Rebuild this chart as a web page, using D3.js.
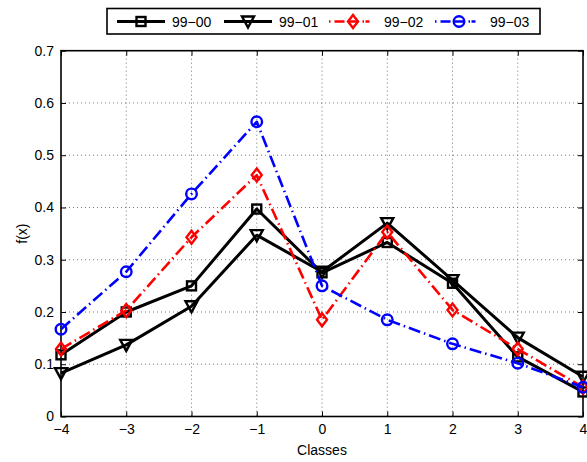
<!DOCTYPE html>
<html><head><meta charset="utf-8">
<script src="https://cdn.jsdelivr.net/npm/d3@7"></script>
<style>body{margin:0;background:#fff}svg{display:block}text{font-family:"Liberation Sans",Arial,sans-serif}</style>
</head><body>
<svg id="c" width="587" height="462"></svg>
<script>
const classes = [-4,-3,-2,-1,0,1,2,3,4];
const s9900 = [0.118,0.200,0.250,0.397,0.275,0.333,0.255,0.114,0.047];
const s9901 = [0.083,0.137,0.211,0.347,0.277,0.370,0.261,0.151,0.076];
const s9902 = [0.129,0.203,0.343,0.462,0.185,0.353,0.204,0.129,0.056];
const s9903 = [0.167,0.277,0.426,0.564,0.250,0.185,0.139,0.102,0.056];
const seriesNames = ["99-00","99-01","99-02","99-03"];
const xTicks = [-4,-3,-2,-1,0,1,2,3,4];
const yTicks = [0,0.1,0.2,0.3,0.4,0.5,0.6,0.7];

const svg = d3.select("#c");
const L=61, R=583, T=50.7, B=416.5;
const x = d3.scaleLinear().domain([-4,4]).range([L,R]);
const y = d3.scaleLinear().domain([0,0.7]).range([B,T]);

// grid
const g = svg.append("g");
g.selectAll(".gx").data(xTicks.slice(1,-1)).enter().append("line")
 .attr("x1",d=>x(d)).attr("x2",d=>x(d)).attr("y1",T).attr("y2",B)
 .attr("stroke","#555").attr("stroke-width",0.8).attr("stroke-dasharray","1,3");
g.selectAll(".gy").data(yTicks.slice(1,-1)).enter().append("line")
 .attr("y1",d=>y(d)).attr("y2",d=>y(d)).attr("x1",L).attr("x2",R)
 .attr("stroke","#555").attr("stroke-width",0.8).attr("stroke-dasharray","1,3");

// axes
const fmtY = d=>d===0?"0":d.toFixed(1);
const fmtX = d=>d<0?"\u2212"+Math.abs(d):String(d);
const ax = svg.append("g").attr("transform",`translate(0,${B})`)
 .call(d3.axisBottom(x).tickValues(xTicks).tickFormat(fmtX).tickSizeInner(-5).tickSizeOuter(0).tickPadding(7));
const ay = svg.append("g").attr("transform",`translate(${L},0)`)
 .call(d3.axisLeft(y).tickValues(yTicks).tickFormat(fmtY).tickSizeInner(-5).tickSizeOuter(0).tickPadding(7));
svg.append("g").attr("transform",`translate(0,${T})`)
 .call(d3.axisTop(x).tickValues(xTicks).tickFormat("").tickSizeInner(-5).tickSizeOuter(0));
svg.append("g").attr("transform",`translate(${R},0)`)
 .call(d3.axisRight(y).tickValues(yTicks).tickFormat("").tickSizeInner(-5).tickSizeOuter(0));
svg.selectAll(".domain").remove();
svg.selectAll(".tick line").attr("stroke","#000").attr("stroke-width",1);
svg.selectAll(".tick text").attr("font-size",14).attr("fill","#000").style("font-family",'"Liberation Sans",Arial,sans-serif');
ax.selectAll(".tick text").attr("dy","0.75em");
svg.append("rect").attr("x",L).attr("y",T).attr("width",R-L).attr("height",B-T)
 .attr("fill","none").attr("stroke","#000").attr("stroke-width",1.6);

svg.append("text").attr("x",(L+R)/2).attr("y",455).attr("text-anchor","middle").attr("font-size",14).text("Classes");
svg.append("text").attr("transform",`translate(27,${(T+B)/2}) rotate(-90)`).attr("text-anchor","middle").attr("font-size",14).text("f(x)");

// series
const styles = [
 {data:s9900,color:"#000",w:3,dash:null,marker:"square"},
 {data:s9901,color:"#000",w:3,dash:null,marker:"tri"},
 {data:s9902,color:"#f00",w:2.6,dash:"12,4,1.5,4",marker:"diamond"},
 {data:s9903,color:"#00f",w:2.6,dash:"12,4,1.5,4",marker:"circle"}
];
const line = d3.line().x((d,i)=>x(classes[i])).y(d=>y(d));
function marker(sel,type,color){
  if(type==="square") sel.append("rect").attr("x",-4.5).attr("y",-4.5).attr("width",9).attr("height",9);
  else if(type==="tri") sel.append("path").attr("d","M-6,-5L6,-5L0,6Z");
  else if(type==="diamond") sel.append("path").attr("d","M0,-6.5L5,0L0,6.5L-5,0Z");
  else sel.append("circle").attr("r",5.3);
  sel.selectAll("*").attr("fill","none").attr("stroke",color).attr("stroke-width",2.4);
}
styles.forEach(s=>{
  svg.append("path").datum(s.data).attr("d",line).attr("fill","none")
   .attr("stroke",s.color).attr("stroke-width",s.w).attr("stroke-dasharray",s.dash)
   .attr("stroke-linejoin","round");
  s.data.forEach((v,i)=>{
    const m = svg.append("g").attr("transform",`translate(${x(classes[i])},${y(v)})`);
    marker(m,s.marker,s.color);
  });
});

// legend
const lg = svg.append("g");
lg.append("rect").attr("x",107).attr("y",8.5).attr("width",433).attr("height",25.5)
 .attr("fill","#fff").attr("stroke","#000").attr("stroke-width",1.6);
const lx0 = [117,224,329,435];
styles.forEach((s,i)=>{
  const cy=21.5, x0=lx0[i];
  lg.append("line").attr("x1",x0).attr("x2",x0+48).attr("y1",cy).attr("y2",cy)
   .attr("stroke",s.color).attr("stroke-width",s.w).attr("stroke-dasharray",s.dash?"1.5,4,10,4,10,4,1.5":null);
  const m = lg.append("g").attr("transform",`translate(${x0+24},${cy})`);
  marker(m,s.marker,s.color);
  lg.append("text").attr("x",x0+55).attr("y",cy+5).attr("font-size",14).text(seriesNames[i].replace("-","\u2212"));
});
</script>
</body></html>
